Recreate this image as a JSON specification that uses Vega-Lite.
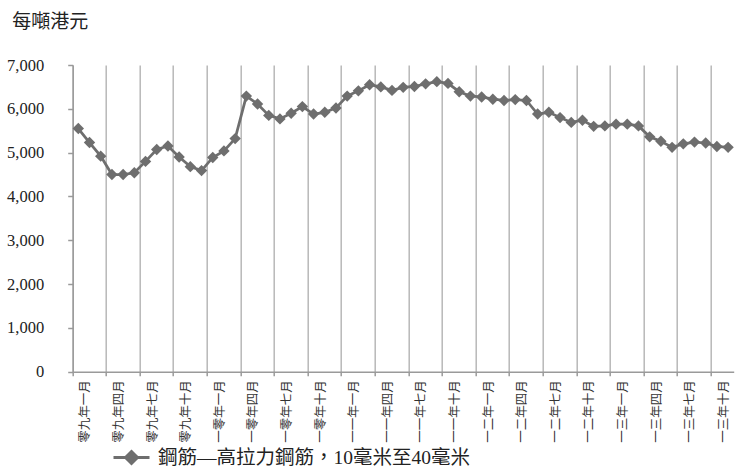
{
  "$schema": "https://vega.github.io/schema/vega-lite/v6.json",
  "width": 661,
  "height": 306.7,
  "autosize": {"type": "none"},
  "padding": {"left": 72.7, "top": 65, "right": 1.3, "bottom": 101.3},
  "background": "white",
  "config": {"view": {"stroke": null}, "font": "Liberation Serif, Times New Roman, serif"},
  "data": {"values": [
    {"month": "零九年一月", "price": 5550, "series": "鋼筋—高拉力鋼筋，10毫米至40毫米"},
    {"month": "零九年二月", "price": 5230, "series": "鋼筋—高拉力鋼筋，10毫米至40毫米"},
    {"month": "零九年三月", "price": 4920, "series": "鋼筋—高拉力鋼筋，10毫米至40毫米"},
    {"month": "零九年四月", "price": 4500, "series": "鋼筋—高拉力鋼筋，10毫米至40毫米"},
    {"month": "零九年五月", "price": 4500, "series": "鋼筋—高拉力鋼筋，10毫米至40毫米"},
    {"month": "零九年六月", "price": 4540, "series": "鋼筋—高拉力鋼筋，10毫米至40毫米"},
    {"month": "零九年七月", "price": 4800, "series": "鋼筋—高拉力鋼筋，10毫米至40毫米"},
    {"month": "零九年八月", "price": 5070, "series": "鋼筋—高拉力鋼筋，10毫米至40毫米"},
    {"month": "零九年九月", "price": 5150, "series": "鋼筋—高拉力鋼筋，10毫米至40毫米"},
    {"month": "零九年十月", "price": 4900, "series": "鋼筋—高拉力鋼筋，10毫米至40毫米"},
    {"month": "零九年十一月", "price": 4680, "series": "鋼筋—高拉力鋼筋，10毫米至40毫米"},
    {"month": "零九年十二月", "price": 4590, "series": "鋼筋—高拉力鋼筋，10毫米至40毫米"},
    {"month": "一零年一月", "price": 4890, "series": "鋼筋—高拉力鋼筋，10毫米至40毫米"},
    {"month": "一零年二月", "price": 5040, "series": "鋼筋—高拉力鋼筋，10毫米至40毫米"},
    {"month": "一零年三月", "price": 5320, "series": "鋼筋—高拉力鋼筋，10毫米至40毫米"},
    {"month": "一零年四月", "price": 6290, "series": "鋼筋—高拉力鋼筋，10毫米至40毫米"},
    {"month": "一零年五月", "price": 6110, "series": "鋼筋—高拉力鋼筋，10毫米至40毫米"},
    {"month": "一零年六月", "price": 5850, "series": "鋼筋—高拉力鋼筋，10毫米至40毫米"},
    {"month": "一零年七月", "price": 5770, "series": "鋼筋—高拉力鋼筋，10毫米至40毫米"},
    {"month": "一零年八月", "price": 5900, "series": "鋼筋—高拉力鋼筋，10毫米至40毫米"},
    {"month": "一零年九月", "price": 6050, "series": "鋼筋—高拉力鋼筋，10毫米至40毫米"},
    {"month": "一零年十月", "price": 5880, "series": "鋼筋—高拉力鋼筋，10毫米至40毫米"},
    {"month": "一零年十一月", "price": 5920, "series": "鋼筋—高拉力鋼筋，10毫米至40毫米"},
    {"month": "一零年十二月", "price": 6020, "series": "鋼筋—高拉力鋼筋，10毫米至40毫米"},
    {"month": "一一年一月", "price": 6290, "series": "鋼筋—高拉力鋼筋，10毫米至40毫米"},
    {"month": "一一年二月", "price": 6410, "series": "鋼筋—高拉力鋼筋，10毫米至40毫米"},
    {"month": "一一年三月", "price": 6550, "series": "鋼筋—高拉力鋼筋，10毫米至40毫米"},
    {"month": "一一年四月", "price": 6500, "series": "鋼筋—高拉力鋼筋，10毫米至40毫米"},
    {"month": "一一年五月", "price": 6420, "series": "鋼筋—高拉力鋼筋，10毫米至40毫米"},
    {"month": "一一年六月", "price": 6490, "series": "鋼筋—高拉力鋼筋，10毫米至40毫米"},
    {"month": "一一年七月", "price": 6510, "series": "鋼筋—高拉力鋼筋，10毫米至40毫米"},
    {"month": "一一年八月", "price": 6570, "series": "鋼筋—高拉力鋼筋，10毫米至40毫米"},
    {"month": "一一年九月", "price": 6620, "series": "鋼筋—高拉力鋼筋，10毫米至40毫米"},
    {"month": "一一年十月", "price": 6580, "series": "鋼筋—高拉力鋼筋，10毫米至40毫米"},
    {"month": "一一年十一月", "price": 6390, "series": "鋼筋—高拉力鋼筋，10毫米至40毫米"},
    {"month": "一一年十二月", "price": 6290, "series": "鋼筋—高拉力鋼筋，10毫米至40毫米"},
    {"month": "一二年一月", "price": 6270, "series": "鋼筋—高拉力鋼筋，10毫米至40毫米"},
    {"month": "一二年二月", "price": 6220, "series": "鋼筋—高拉力鋼筋，10毫米至40毫米"},
    {"month": "一二年三月", "price": 6190, "series": "鋼筋—高拉力鋼筋，10毫米至40毫米"},
    {"month": "一二年四月", "price": 6210, "series": "鋼筋—高拉力鋼筋，10毫米至40毫米"},
    {"month": "一二年五月", "price": 6190, "series": "鋼筋—高拉力鋼筋，10毫米至40毫米"},
    {"month": "一二年六月", "price": 5880, "series": "鋼筋—高拉力鋼筋，10毫米至40毫米"},
    {"month": "一二年七月", "price": 5920, "series": "鋼筋—高拉力鋼筋，10毫米至40毫米"},
    {"month": "一二年八月", "price": 5800, "series": "鋼筋—高拉力鋼筋，10毫米至40毫米"},
    {"month": "一二年九月", "price": 5690, "series": "鋼筋—高拉力鋼筋，10毫米至40毫米"},
    {"month": "一二年十月", "price": 5740, "series": "鋼筋—高拉力鋼筋，10毫米至40毫米"},
    {"month": "一二年十一月", "price": 5600, "series": "鋼筋—高拉力鋼筋，10毫米至40毫米"},
    {"month": "一二年十二月", "price": 5610, "series": "鋼筋—高拉力鋼筋，10毫米至40毫米"},
    {"month": "一三年一月", "price": 5650, "series": "鋼筋—高拉力鋼筋，10毫米至40毫米"},
    {"month": "一三年二月", "price": 5650, "series": "鋼筋—高拉力鋼筋，10毫米至40毫米"},
    {"month": "一三年三月", "price": 5610, "series": "鋼筋—高拉力鋼筋，10毫米至40毫米"},
    {"month": "一三年四月", "price": 5360, "series": "鋼筋—高拉力鋼筋，10毫米至40毫米"},
    {"month": "一三年五月", "price": 5260, "series": "鋼筋—高拉力鋼筋，10毫米至40毫米"},
    {"month": "一三年六月", "price": 5120, "series": "鋼筋—高拉力鋼筋，10毫米至40毫米"},
    {"month": "一三年七月", "price": 5200, "series": "鋼筋—高拉力鋼筋，10毫米至40毫米"},
    {"month": "一三年八月", "price": 5240, "series": "鋼筋—高拉力鋼筋，10毫米至40毫米"},
    {"month": "一三年九月", "price": 5220, "series": "鋼筋—高拉力鋼筋，10毫米至40毫米"},
    {"month": "一三年十月", "price": 5140, "series": "鋼筋—高拉力鋼筋，10毫米至40毫米"},
    {"month": "一三年十一月", "price": 5120, "series": "鋼筋—高拉力鋼筋，10毫米至40毫米"}
  ]},
  "encoding": {
    "x": {
      "field": "month", "type": "ordinal", "sort": null,
      "scale": {"type": "band", "paddingInner": 0, "paddingOuter": 0},
      "axis": {
        "title": null,
        "values": ["零九年一月","零九年四月","零九年七月","零九年十月","一零年一月","一零年四月","一零年七月","一零年十月","一一年一月","一一年四月","一一年七月","一一年十月","一二年一月","一二年四月","一二年七月","一二年十月","一三年一月","一三年四月","一三年七月","一三年十月"],
        "bandPosition": 0,
        "labelAngle": -90,
        "labelFont": "Noto Sans CJK TC",
        "labelFontSize": 12.5,
        "labelColor": "#333333",
        "labelOffset": 7,
        "labelPadding": 4,
        "tickSize": 4,
        "tickWidth": 1.5,
        "tickColor": "#9a9a9a",
        "domainColor": "#9a9a9a",
        "domainWidth": 1.5,
        "grid": true,
        "gridColor": "#b8b8b8",
        "gridWidth": 1.5
      }
    },
    "y": {
      "field": "price", "type": "quantitative",
      "scale": {"domain": [0, 7000]},
      "axis": {
        "values": [0, 1000, 2000, 3000, 4000, 5000, 6000, 7000],
        "format": ",.0f",
        "grid": false,
        "tickSize": 5,
        "tickWidth": 1.5,
        "tickColor": "#9a9a9a",
        "domainColor": "#9a9a9a",
        "domainWidth": 1.5,
        "labelPadding": 24,
        "labelFont": "Liberation Serif, Times New Roman, serif",
        "labelFontSize": 16.5,
        "labelColor": "#222222",
        "title": "每噸港元",
        "titleAngle": 0,
        "titleX": -61,
        "titleY": -43.5,
        "titleAlign": "left",
        "titleBaseline": "middle",
        "titleFont": "Noto Sans CJK TC",
        "titleFontSize": 19,
        "titleFontWeight": "normal",
        "titleColor": "#222222"
      }
    },
    "color": {
      "field": "series", "type": "nominal",
      "scale": {"range": ["#6e6e6e"]},
      "legend": {
        "orient": "none",
        "legendX": 39.3,
        "legendY": 373,
        "title": null,
        "padding": 0,
        "symbolType": "M-1,0H1M-0.33,0L0,-0.33L0.33,0L0,0.33Z",
        "symbolSize": 1296,
        "symbolStrokeWidth": 3,
        "symbolFillColor": "#6e6e6e",
        "symbolStrokeColor": "#6e6e6e",
        "symbolOpacity": 1,
        "labelFont": "Liberation Serif, Noto Sans CJK TC",
        "labelFontSize": 19.5,
        "labelColor": "#222222",
        "labelLimit": 500,
        "labelOffset": 7
      }
    }
  },
  "layer": [
    {"mark": {"type": "line", "strokeWidth": 2.75}},
    {"mark": {"type": "point", "shape": "diamond", "filled": true, "size": 130, "opacity": 1}}
  ]
}
